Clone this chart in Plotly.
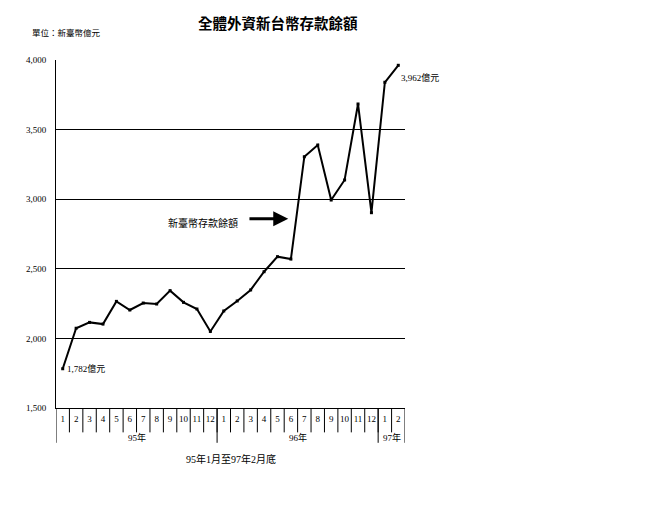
import plotly.graph_objects as go

months = ["1","2","3","4","5","6","7","8","9","10","11","12",
          "1","2","3","4","5","6","7","8","9","10","11","12",
          "1","2"]
years = ["95年", "96年", "97年"]
year_counts = [12, 12, 2]
values = [1782, 2073, 2115, 2103, 2266, 2204, 2254, 2247, 2343, 2259, 2211, 2050,
          2197, 2269, 2348, 2479, 2587, 2570, 3305, 3389, 2994, 3138, 3684, 2903,
          3840, 3962]
y_ticks = [1500, 2000, 2500, 3000, 3500, 4000]

title = "全體外資新台幣存款餘額"
unit_text = "單位：新臺幣億元"
series_name = "新臺幣存款餘額"
x_title = "95年1月至97年2月底"

FONT = "Liberation Serif, Noto Sans CJK TC, serif"
CJK = "Noto Sans CJK TC, sans-serif"

x = list(range(len(values)))

fig = go.Figure()
fig.add_trace(go.Scatter(
    x=x, y=values, mode="lines+markers",
    line=dict(color="black", width=2),
    marker=dict(symbol="square", size=3, color="black"),
    showlegend=False, cliponaxis=False,
))

shapes = []
for i in range(1, len(values)):
    shapes.append(dict(type="line", xref="x", yref="paper",
                       x0=i - 0.5, x1=i - 0.5, y0=0, y1=-0.07,
                       line=dict(color="black", width=1)))
pos = 0
bounds = [0]
for c in year_counts:
    pos += c
    bounds.append(pos)
for b in bounds:
    shapes.append(dict(type="line", xref="x", yref="paper",
                       x0=b - 0.5, x1=b - 0.5, y0=0, y1=-0.10,
                       line=dict(color="black", width=1)))

annotations = []
start = 0
for yl, c in zip(years, year_counts):
    annotations.append(dict(x=start + (c - 1) / 2, y=-0.086, xref="x", yref="paper",
                            xanchor="center", yanchor="middle",
                            text=yl, showarrow=False,
                            font=dict(family=FONT, size=9, color="black")))
    start += c

annotations += [
    dict(x=0.636, y=1.109, xref="paper", yref="paper", xanchor="center", yanchor="middle",
         text=f"<b>{title}</b>", showarrow=False,
         font=dict(family=CJK, size=14.5, color="black")),
    dict(x=-0.075, y=1.08, xref="paper", yref="paper", xanchor="left", yanchor="middle",
         text=unit_text, showarrow=False,
         font=dict(family=CJK, size=8.5, color="black")),
    dict(x=0.5, y=-0.147, xref="paper", yref="paper", xanchor="center", yanchor="middle",
         text=x_title, showarrow=False,
         font=dict(family=FONT, size=10, color="black")),
    dict(x=0.15, y=values[0], xref="x", yref="y", xanchor="left", yanchor="middle",
         text=f"{values[0]:,}億元", showarrow=False,
         font=dict(family=FONT, size=9, color="black")),
    dict(x=len(values) - 1 + 0.05, y=values[-1] - 90, xref="x", yref="y",
         xanchor="left", yanchor="middle",
         text=f"{values[-1]:,}億元", showarrow=False,
         font=dict(family=FONT, size=9, color="black")),
    dict(x=16.8, y=2860, ax=13.8, ay=2860, xref="x", yref="y", axref="x", ayref="y",
         text="", showarrow=True, arrowhead=2, arrowsize=1, arrowwidth=3,
         arrowcolor="black"),
    dict(x=13.2, y=2835, xref="x", yref="y", xanchor="right", yanchor="middle",
         text=series_name, showarrow=False,
         font=dict(family=CJK, size=10, color="black")),
]

fig.update_layout(
    width=651, height=516,
    margin=dict(l=48, r=254, t=52, b=116),
    paper_bgcolor="white", plot_bgcolor="white",
    shapes=shapes, annotations=annotations,
    xaxis=dict(range=[-0.5, len(values) - 0.5], tickmode="array",
               tickvals=x, ticktext=months, showgrid=False, zeroline=False,
               showline=True, linecolor="black", linewidth=1, ticks="",
               tickfont=dict(family=FONT, size=9, color="black"), ticklabelstandoff=2),
    yaxis=dict(range=[1500, 4000], tickmode="array", tickvals=y_ticks,
               tickformat=",", showgrid=True, gridcolor="black", gridwidth=1,
               zeroline=False, showline=True, linecolor="black", linewidth=1,
               ticks="", tickfont=dict(family=FONT, size=9, color="black"),
               ticklabelstandoff=7),
)

fig.write_html("out.html")
